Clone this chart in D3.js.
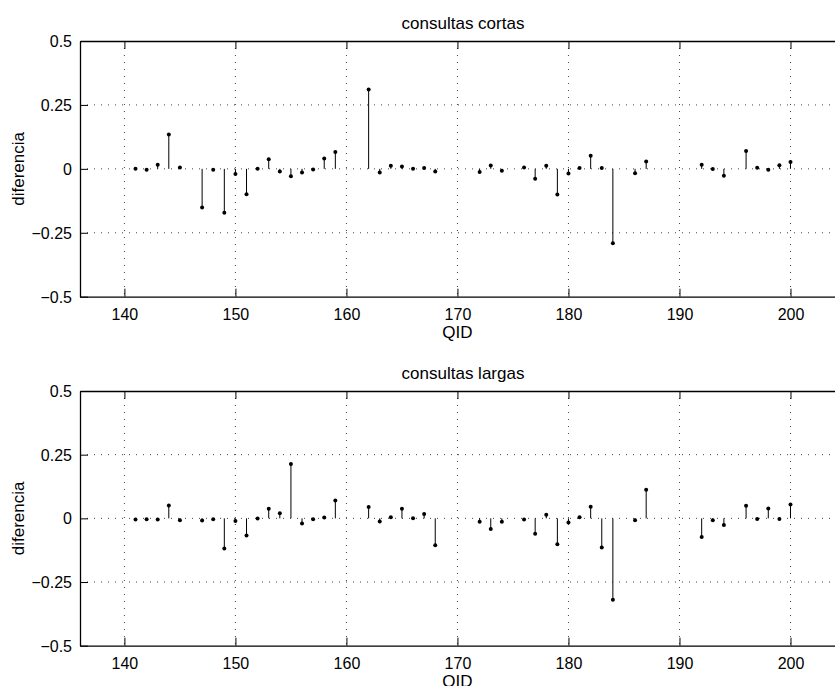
<!DOCTYPE html>
<html>
<head>
<meta charset="utf-8">
<script src="https://cdn.jsdelivr.net/npm/d3@7"></script>
<style>
  body { margin: 0; background: #fff; }
  svg text { font-family: "Liberation Sans", Arial, sans-serif; fill: #000; }
</style>
</head>
<body>
<svg id="chart" width="835" height="686"></svg>
<script>
// QIDs present in both panels (146, 160, 161, 169-171, 175, 185, 188-191, 195 are missing)
var qids = [141,142,143,144,145,147,148,149,150,151,152,153,154,155,156,157,158,159,
  162,163,164,165,166,167,168,172,173,174,176,177,178,179,180,181,182,183,184,
  186,187,192,193,194,196,197,198,199,200];

// consultas cortas
var cortas = [0,-0.004,0.016,0.134,0.005,-0.151,-0.004,-0.172,-0.02,-0.099,0,0.038,-0.01,-0.029,-0.014,-0.003,0.04,0.066,
  0.31,-0.014,0.012,0.009,0,0.003,-0.01,-0.012,0.013,-0.007,0.005,-0.039,0.012,-0.1,-0.018,0.003,0.051,0.003,-0.291,
  -0.017,0.029,0.016,-0.001,-0.027,0.07,0.004,-0.004,0.014,0.027];

// consultas largas
var largas = [-0.005,-0.004,-0.005,0.05,-0.007,-0.008,-0.004,-0.118,-0.01,-0.067,-0.001,0.038,0.02,0.213,-0.02,-0.004,0.003,0.07,
  0.045,-0.012,0.004,0.038,0,0.017,-0.106,-0.013,-0.042,-0.013,-0.005,-0.06,0.014,-0.102,-0.016,0.004,0.046,-0.114,-0.32,
  -0.007,0.112,-0.073,-0.007,-0.026,0.049,-0.003,0.039,-0.003,0.054];

var xTicks = [140,150,160,170,180,190,200];
var yTicks = [-0.5,-0.25,0,0.25,0.5];
var yTickLabels = ['\u22120.5','\u22120.25','0','0.25','0.5'];

var svg = d3.select('#chart');
var left = 80, right = 846;

var x = d3.scaleLinear().domain([136, 205]).range([left, right]);

function panel(top, bottom, title, values){
  var y = d3.scaleLinear().domain([-0.5, 0.5]).range([bottom, top]);
  var g = svg.append('g');

  //grid
  g.selectAll('.gx').data(xTicks).enter().append('line')
    .attr('x1', function(d){return x(d)}).attr('x2', function(d){return x(d)})
    .attr('y1', top).attr('y2', bottom)
    .attr('stroke', '#444').attr('stroke-width', 1).attr('stroke-dasharray', '1,6');
  g.selectAll('.gy').data(yTicks.slice(1, 4)).enter().append('line')
    .attr('x1', left).attr('x2', right)
    .attr('y1', function(d){return y(d)}).attr('y2', function(d){return y(d)})
    .attr('stroke', '#444').attr('stroke-width', 1).attr('stroke-dasharray', '1,6');

  //axes with inward ticks
  var xb = d3.axisBottom(x).tickValues(xTicks).tickSizeInner(-8).tickSizeOuter(0).tickPadding(12);
  var xt = d3.axisTop(x).tickValues(xTicks).tickSizeInner(-8).tickSizeOuter(0).tickFormat('');
  var yl = d3.axisLeft(y).tickValues(yTicks).tickSizeInner(-8).tickSizeOuter(0).tickPadding(8)
    .tickFormat(function(d, i){return yTickLabels[i]});

  var ax = g.append('g').attr('transform', 'translate(0,' + bottom + ')').call(xb);
  var at = g.append('g').attr('transform', 'translate(0,' + top + ')').call(xt);
  var ay = g.append('g').attr('transform', 'translate(' + left + ',0)').call(yl);
  [ax, at, ay].forEach(function(a){
    a.select('.domain').attr('stroke', '#000').attr('stroke-width', 1.3);
    a.selectAll('.tick line').attr('stroke', '#000');
    a.selectAll('text').style('font-size', '16px').attr('fill', '#000');
  });
  ay.selectAll('.tick text').attr('dy', '0.35em');

  //stems
  g.selectAll('.stem').data(values).enter().append('line')
    .attr('x1', function(d, i){return x(qids[i])}).attr('x2', function(d, i){return x(qids[i])})
    .attr('y1', y(0)).attr('y2', function(d){return y(d)})
    .attr('stroke', '#000').attr('stroke-width', 1);
  g.selectAll('.dot').data(values).enter().append('circle')
    .attr('cx', function(d, i){return x(qids[i])})
    .attr('cy', function(d){return y(d)})
    .attr('r', 2).attr('fill', '#000');

  //labels
  g.append('text').attr('x', (left + right) / 2).attr('y', top - 12)
    .attr('text-anchor', 'middle').style('font-size', '17px').text(title);
  g.append('text').attr('x', x(170)).attr('y', bottom + 41)
    .attr('text-anchor', 'middle').style('font-size', '17px').text('QID');
  g.append('text').attr('transform', 'translate(24,' + (top + bottom) / 2 + ') rotate(-90)')
    .attr('text-anchor', 'middle').style('font-size', '17px').text('diferencia');
}

panel(41, 296.7, 'consultas cortas', cortas);
panel(391, 645.7, 'consultas largas', largas);
</script>
</body>
</html>
